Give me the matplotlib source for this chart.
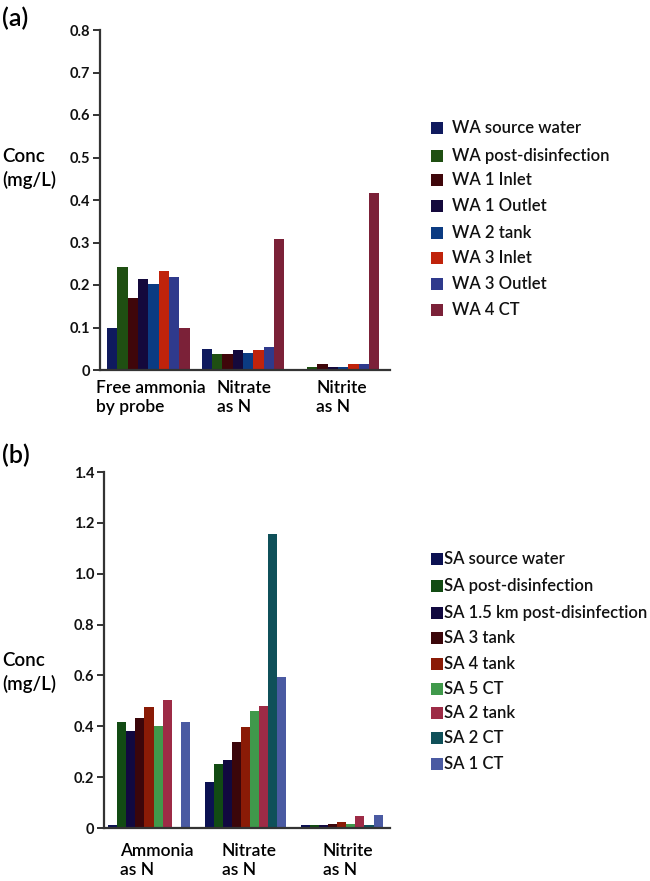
import matplotlib
matplotlib.use("Agg")
import matplotlib.pyplot as plt
import numpy as np
from matplotlib.patches import Rectangle

plt.rcParams['font.family'] = ['Lato', 'DejaVu Sans']

# ---------------- data ----------------
cats_a = ["Free ammonia\nby probe", "Nitrate\nas N", "Nitrite\nas N"]
series_a = ["WA source water", "WA post-disinfection", "WA 1 Inlet", "WA 1 Outlet",
            "WA 2 tank", "WA 3 Inlet", "WA 3 Outlet", "WA 4 CT"]
wa_source = [0.099, 0.050, 0.0]
wa_post = [0.242, 0.037, 0.008]
wa_1in = [0.170, 0.037, 0.013]
wa_1out = [0.213, 0.046, 0.007]
wa_2tank = [0.203, 0.041, 0.007]
wa_3in = [0.233, 0.046, 0.013]
wa_3out = [0.219, 0.053, 0.013]
wa_4ct = [0.099, 0.309, 0.416]
vals_a = [wa_source, wa_post, wa_1in, wa_1out, wa_2tank, wa_3in, wa_3out, wa_4ct]
colors_a = ["#0f1a5e", "#1f4f12", "#3f060a", "#14093c", "#0b3b82",
            "#c0230b", "#2f3a8c", "#7b2138"]
yticks_a = [0, 0.1, 0.2, 0.3, 0.4, 0.5, 0.6, 0.7, 0.8]
yticklabels_a = ["0", "0.1", "0.2", "0.3", "0.4", "0.5", "0.6", "0.7", "0.8"]

cats_b = ["Ammonia\nas N", "Nitrate\nas N", "Nitrite\nas N"]
series_b = ["SA source water", "SA post-disinfection", "SA 1.5 km post-disinfection",
            "SA 3 tank", "SA 4 tank", "SA 5 CT", "SA 2 tank", "SA 2 CT", "SA 1 CT"]
sa_source = [0.011, 0.181, 0.011]
sa_post = [0.417, 0.252, 0.010]
sa_15km = [0.381, 0.268, 0.010]
sa_3tank = [0.432, 0.337, 0.016]
sa_4tank = [0.474, 0.396, 0.022]
sa_5ct = [0.403, 0.459, 0.016]
sa_2tank = [0.504, 0.481, 0.046]
sa_2ct = [0.0, 1.157, 0.010]
sa_1ct = [0.416, 0.595, 0.050]
vals_b = [sa_source, sa_post, sa_15km, sa_3tank, sa_4tank, sa_5ct, sa_2tank, sa_2ct, sa_1ct]
colors_b = ["#0b1152", "#124b13", "#110940", "#3b060a", "#8a1b06",
            "#40994b", "#9d2b46", "#0f5059", "#4a5aa2"]
yticks_b = [0, 0.2, 0.4, 0.6, 0.8, 1.0, 1.2, 1.4]
yticklabels_b = ["0", "0.2", "0.4", "0.6", "0.8", "1.0", "1.2", "1.4"]

W, H = 650, 881
fig = plt.figure(figsize=(W / 100, H / 100), dpi=100)
fig.patch.set_facecolor("white")

spine_col = "#333333"
TW = "semibold"


def style_axes(ax, ylim, yticks, yticklabels, xlim):
    ax.set_ylim(*ylim)
    ax.set_xlim(*xlim)
    ax.set_yticks(yticks)
    ax.set_yticklabels(yticklabels, fontsize=10.5, fontweight="bold", color="#111111")
    ax.set_xticks([])
    for s in ["top", "right"]:
        ax.spines[s].set_visible(False)
    for s in ["left", "bottom"]:
        ax.spines[s].set_color(spine_col)
        ax.spines[s].set_linewidth(1.6)
    ax.tick_params(axis="y", length=5, width=1.4, color=spine_col, pad=2)


def draw_bars(ax, vals, colors, bw):
    n = len(vals)
    x = np.arange(3)
    for i, (v, c) in enumerate(zip(vals, colors)):
        ax.bar(x + (i - (n - 1) / 2) * bw, v, width=bw, color=c, edgecolor="none")


def manual_legend(labels, colors, x_sq, x_txt, ys, fs):
    for lab, c, y in zip(labels, colors, ys):
        fig.patches.append(Rectangle((x_sq / W, 1 - (y + 6) / H), 12 / W, 12 / H,
                                     transform=fig.transFigure, facecolor=c,
                                     edgecolor="none"))
        fig.text(x_txt / W, 1 - y / H, lab, fontsize=fs, va="center", ha="left",
                 color="#111111", fontweight=TW)


# ---------------- panel (a) ----------------
ax1 = fig.add_axes([100 / W, 1 - 370 / H, 290 / W, 340 / H])
draw_bars(ax1, vals_a, colors_a, 0.109)
style_axes(ax1, (0, 0.8), yticks_a, yticklabels_a, (-0.51, 2.55))

fig.text(2 / W, 1 - 18 / H, "(a)", fontsize=18, va="center", ha="left", fontweight=TW)
fig.text(2 / W, 1 - 157 / H, "Conc", fontsize=13.5, va="center", ha="left", fontweight=TW)
fig.text(2 / W, 1 - 180 / H, "(mg/L)", fontsize=13.5, va="center", ha="left", fontweight=TW)

for lab, px in zip(cats_a, [96, 217, 316]):
    fig.text(px / W, 1 - 380 / H, lab, fontsize=12.5, va="top", ha="left",
             linespacing=1.25, fontweight=TW)

manual_legend(series_a, colors_a, 431, 452,
              [128, 156, 180, 206, 233, 258, 284, 310], 12)

# ---------------- panel (b) ----------------
ax2 = fig.add_axes([104 / W, 1 - 828 / H, 286 / W, 356 / H])
draw_bars(ax2, vals_b, colors_b, 0.094)
style_axes(ax2, (0, 1.4), yticks_b, yticklabels_b, (-0.467, 2.5))

fig.text(2 / W, 1 - 455 / H, "(b)", fontsize=18, va="center", ha="left", fontweight=TW)
fig.text(2 / W, 1 - 660 / H, "Conc", fontsize=13.5, va="center", ha="left", fontweight=TW)
fig.text(2 / W, 1 - 684 / H, "(mg/L)", fontsize=13.5, va="center", ha="left", fontweight=TW)

for lab, px in zip(cats_b, [120, 222, 323]):
    fig.text(px / W, 1 - 843 / H, lab, fontsize=12.5, va="top", ha="left",
             linespacing=1.25, fontweight=TW)

manual_legend(series_b, colors_b, 431, 444,
              [559, 586, 613, 638, 664, 689, 713, 738, 764], 12)

fig.savefig("out.png", dpi=100, facecolor="white")
